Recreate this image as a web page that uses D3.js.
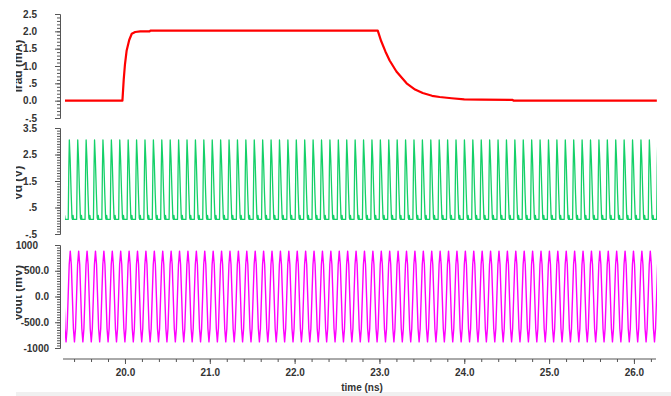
<!DOCTYPE html>
<html>
<head>
<meta charset="utf-8">
<script src="https://cdn.jsdelivr.net/npm/d3@7"></script>
<style>
  body { margin: 0; background: #fff; }
  text { font-family: "Liberation Sans", Arial, sans-serif; font-weight: bold; fill: #333; }
</style>
</head>
<body>
<script>
// ---- data ----
// Irad (mA) : step up at 20 ns, decay after 23 ns
var iradTime = [19.29, 19.97, 19.985, 20.0, 20.02, 20.05, 20.08, 20.12, 20.18, 20.29, 20.30, 22.98, 23.02, 23.07, 23.12, 23.2, 23.32, 23.42, 23.51, 23.62, 23.71, 23.85, 24.0, 24.2, 24.57, 24.58, 26.27];
var iradMA   = [0, 0, 0.6, 1.05, 1.45, 1.75, 1.93, 1.98, 2.0, 2.0, 2.02, 2.02, 1.72, 1.42, 1.16, 0.84, 0.5, 0.32, 0.22, 0.14, 0.105, 0.07, 0.04, 0.03, 0.02, 0, 0];

// Vd (V) : one pulse as it looks in the picture (phase inside a period, volts)
var vdPhase = [0.00, 0.05, 0.12, 0.18, 0.28, 0.40, 0.50, 0.56, 0.62, 0.68];
var vdVolts = [0.05, 0.05, 2.0, 3.05, 2.3, 1.0, 0.1, 0.05, 0.2, 0.05];

// Vout (mV) : one cycle of the sine as sampled in the picture
var voutPhase = [0, 0.125, 0.25, 0.375, 0.5, 0.625, 0.75, 0.875];
var voutMV    = [0, 622, 880, 622, 0, -622, -880, -622];

var period = 0.0991;          // ns, 69 cycles seen across the window
var vdFirstPeak = 19.344;     // ns
var voutFirstPeak = 19.355;   // ns

var xTicks = [20, 21, 22, 23, 24, 25, 26];
var iradTicks = [-0.5, 0, 0.5, 1, 1.5, 2, 2.5];
var iradLabels = ["-.5", "0.0", ".5", "1.0", "1.5", "2.0", "2.5"];
var vdTicks = [-0.5, 0.5, 1.5, 2.5, 3.5];
var vdLabels = ["-.5", ".5", "1.5", "2.5", "3.5"];
var voutTicks = [-1000, -500, 0, 500, 1000];
var voutLabels = ["-1000", "-500.0", "0.0", "500.0", "1000"];

// ---- layout ----
var W = 671, H = 396;
var svg = d3.select("body").append("svg").attr("width", W).attr("height", H);

var x = d3.scaleLinear().domain([19.293, 26.272]).range([65, 657]);
var yIrad = d3.scaleLinear().domain([-0.5, 2.5]).range([118, 14]);
var yVd = d3.scaleLinear().domain([-0.5, 3.5]).range([234, 128]);
var yVout = d3.scaleLinear().domain([-1000, 1000]).range([348, 245]);

svg.append("rect").attr("x", 16).attr("y", 392).attr("width", W - 16).attr("height", 4).attr("fill", "#f0f0f0");

svg.append("clipPath").attr("id", "plotclip")
  .append("rect").attr("x", 65).attr("y", 0).attr("width", 592).attr("height", H);
svg.append("clipPath").attr("id", "labclip")
  .append("rect").attr("x", 16).attr("y", 0).attr("width", 40).attr("height", H);

// build the repeated waveform from one cycle
function tile(firstPeak, peakPhase, phases, values) {
  var pts = [];
  var start = firstPeak - peakPhase * period - period;
  for (var c = start; c < x.domain()[1] + period; c += period) {
    for (var i = 0; i < phases.length; i++) {
      pts.push([c + phases[i] * period, values[i]]);
    }
  }
  return pts;
}

var iradData = iradTime.map(function(t, i) { return [t, iradMA[i]]; });
var vdData = tile(vdFirstPeak, 0.18, vdPhase, vdVolts);
var voutData = tile(voutFirstPeak, 0.25, voutPhase, voutMV);

function drawLine(data, yScale, color, width) {
  var line = d3.line().x(function(d) { return x(d[0]); }).y(function(d) { return yScale(d[1]); });
  svg.append("path")
    .attr("clip-path", "url(#plotclip)")
    .attr("d", line(data))
    .attr("fill", "none")
    .attr("stroke", color)
    .attr("stroke-width", width)
    .attr("stroke-linejoin", "round");
}

drawLine(iradData, yIrad, "#ff0000", 2.2);
drawLine(vdData, yVd, "#14d068", 1.3);
drawLine(voutData, yVout, "#ff00ff", 1.4);

// y axes: major ticks with labels, minor ruler ticks
function yAxis(scale, ticks, labels, minorStep, labelEnd) {
  var ax = 60;
  var d = scale.domain();
  var minors = d3.range(d[0], d[1] + minorStep / 2, minorStep);
  svg.append("g").attr("transform", "translate(" + ax + ",0)")
    .call(d3.axisLeft(scale).tickValues(minors).tickSize(3).tickFormat(""))
    .call(function(g) { g.selectAll("line,path").attr("stroke", "#555"); });
  var g = svg.append("g").attr("transform", "translate(" + ax + ",0)")
    .call(d3.axisLeft(scale).tickValues(ticks).tickSize(5).tickPadding(ax - 5 - labelEnd)
      .tickFormat(function(v, i) { return labels[i]; }));
  g.select(".domain").remove();
  g.selectAll("line").attr("stroke", "#555");
  g.selectAll("text").attr("font-size", 10).attr("font-family", null);
  return g;
}

yAxis(yIrad, iradTicks, iradLabels, 0.1, 37);
yAxis(yVd, vdTicks, vdLabels, 0.1, 37);
var gOut = yAxis(yVout, voutTicks, voutLabels, 50, 49);
gOut.selectAll(".tick").filter(function(d) { return d === 1000; }).select("text").attr("dx", -11);

// x axis
var xMinor = d3.range(19.4, 26.25, 0.2);
svg.append("g").attr("transform", "translate(0,359)")
  .call(d3.axisBottom(x).tickValues(xMinor).tickSize(3).tickFormat(""))
  .call(function(g) {
    g.select(".domain").attr("d", "M63,0H656").attr("stroke", "#555");
    g.selectAll("line").attr("stroke", "#555");
  });
var gx = svg.append("g").attr("transform", "translate(0,359)")
  .call(d3.axisBottom(x).tickValues(xTicks).tickSize(5).tickPadding(5).tickFormat(d3.format(".1f")));
gx.select(".domain").remove();
gx.selectAll("line").attr("stroke", "#555");
gx.selectAll("text").attr("font-size", 10).attr("font-family", null);

svg.append("text").attr("x", 362).attr("y", 391).attr("text-anchor", "middle")
  .attr("font-size", 10).text("time (ns)");

// y titles, clipped at the left edge as in the picture
var titles = [["Irad (mA)", 66], ["Vd (V)", 183], ["Vout (mV)", 293]];
var tg = svg.append("g").attr("clip-path", "url(#labclip)");
titles.forEach(function(t) {
  tg.append("text")
    .attr("transform", "translate(22," + t[1] + ") rotate(-90)")
    .attr("text-anchor", "middle")
    .attr("font-size", 12)
    .text(t[0]);
});
</script>
</body>
</html>
